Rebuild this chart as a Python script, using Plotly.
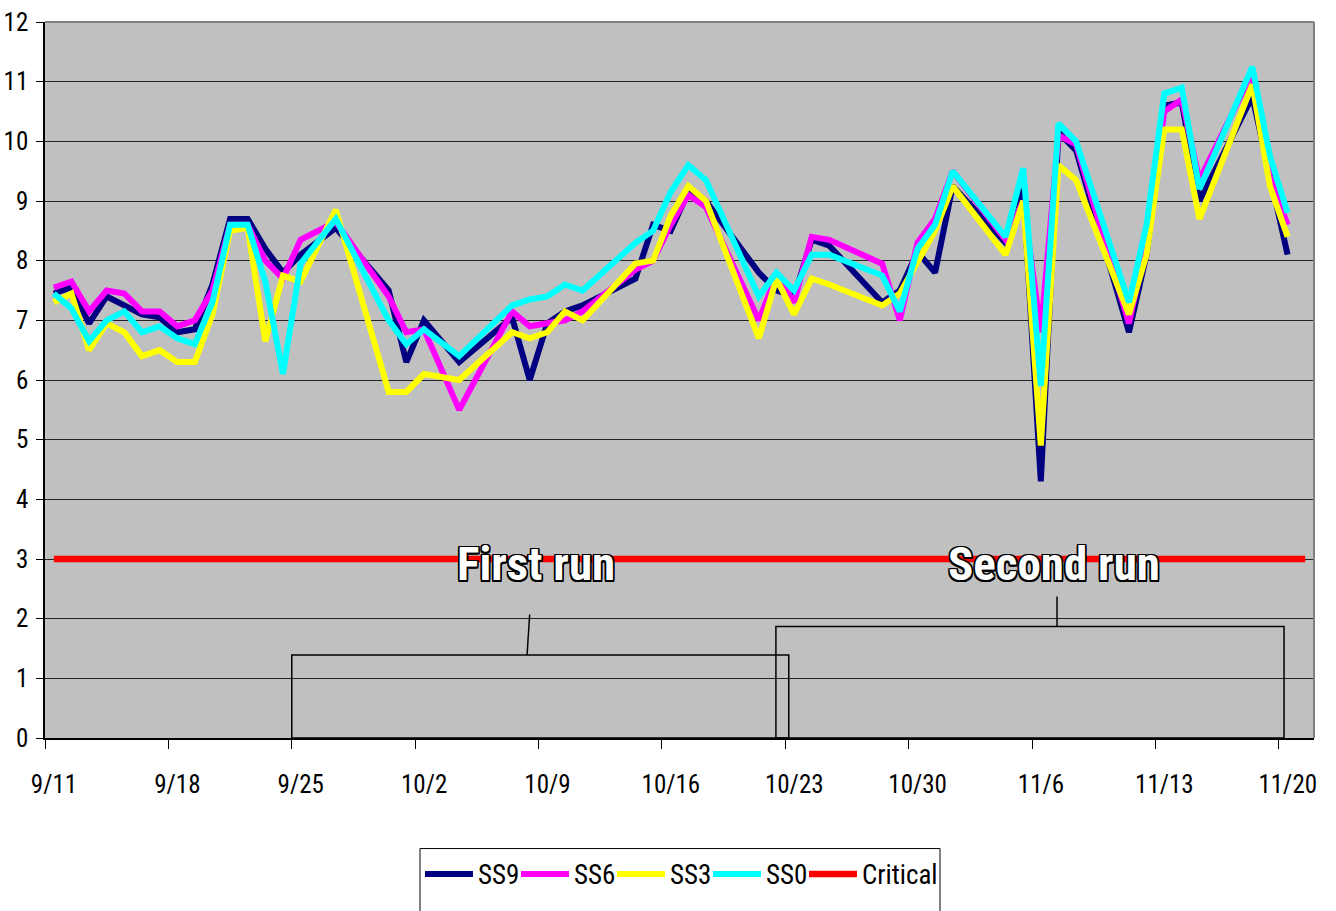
import pandas as pd
import plotly.graph_objects as go

# Sampling dates (2002) and readings for each series
dates = [
    "2002-09-11", "2002-09-12", "2002-09-13", "2002-09-14", "2002-09-15",
    "2002-09-16", "2002-09-17", "2002-09-18", "2002-09-19", "2002-09-20",
    "2002-09-21", "2002-09-22", "2002-09-23", "2002-09-24", "2002-09-25",
    "2002-09-27", "2002-09-30", "2002-10-01", "2002-10-02", "2002-10-04",
    "2002-10-07", "2002-10-08", "2002-10-09", "2002-10-10", "2002-10-11",
    "2002-10-14", "2002-10-15", "2002-10-16", "2002-10-17", "2002-10-18",
    "2002-10-21", "2002-10-22", "2002-10-23", "2002-10-24", "2002-10-25",
    "2002-10-28", "2002-10-29", "2002-10-30", "2002-10-31", "2002-11-01",
    "2002-11-04", "2002-11-05", "2002-11-06", "2002-11-07", "2002-11-08",
    "2002-11-11", "2002-11-12", "2002-11-13", "2002-11-14", "2002-11-15",
    "2002-11-18", "2002-11-19", "2002-11-20",
]

ss9 = [
    7.45, 7.55, 6.95, 7.40, 7.25, 7.10, 7.05, 6.80, 6.85, 7.60,
    8.70, 8.70, 8.20, 7.80, 8.10, 8.55, 7.50, 6.30, 7.00, 6.30,
    7.05, 6.00, 6.95, 7.15, 7.25, 7.70, 8.60, 8.50, 9.15, 9.00,
    7.80, 7.50, 7.40, 8.35, 8.25, 7.30, 7.50, 8.15, 7.80, 9.25,
    8.30, 9.20, 4.30, 10.15, 9.85, 6.80, 8.10, 10.60, 10.65, 9.00,
    10.75, 9.40, 8.10,
]
ss6 = [
    7.55, 7.65, 7.15, 7.50, 7.45, 7.15, 7.15, 6.90, 7.00, 7.50,
    8.60, 8.60, 8.00, 7.70, 8.35, 8.65, 7.40, 6.80, 6.85, 5.50,
    7.15, 6.90, 6.95, 7.00, 7.15, 7.85, 8.00, 8.60, 9.10, 8.90,
    7.00, 7.75, 7.30, 8.40, 8.35, 7.95, 7.00, 8.30, 8.70, 9.50,
    8.35, 9.00, 6.80, 10.10, 9.95, 6.95, 8.30, 10.50, 10.70, 9.35,
    11.15, 9.40, 8.60,
]
ss3 = [
    7.30, 7.45, 6.50, 6.95, 6.80, 6.40, 6.50, 6.30, 6.30, 7.10,
    8.50, 8.55, 6.65, 7.75, 7.65, 8.85, 5.80, 5.80, 6.10, 6.00,
    6.80, 6.70, 6.80, 7.15, 7.00, 7.95, 8.00, 8.75, 9.25, 9.00,
    6.70, 7.70, 7.10, 7.70, 7.60, 7.25, 7.45, 8.00, 8.50, 9.25,
    8.10, 9.00, 4.90, 9.60, 9.35, 7.10, 8.10, 10.20, 10.20, 8.70,
    10.95, 9.25, 8.40,
]
ss0 = [
    7.45, 7.20, 6.65, 7.00, 7.15, 6.80, 6.90, 6.70, 6.60, 7.30,
    8.60, 8.60, 7.65, 6.10, 7.95, 8.70, 7.00, 6.60, 6.85, 6.40,
    7.25, 7.35, 7.40, 7.60, 7.50, 8.30, 8.50, 9.15, 9.60, 9.35,
    7.40, 7.80, 7.50, 8.10, 8.10, 7.75, 7.15, 8.20, 8.60, 9.50,
    8.40, 9.55, 5.90, 10.30, 10.00, 7.30, 8.60, 10.80, 10.90, 9.20,
    11.25, 9.75, 8.80,
]
critical_dates = ["2002-09-11", "2002-11-21"]
critical = [3, 3]

series_names = ["SS9", "SS6", "SS3", "SS0"]
series_colors = ["#000080", "#FF00FF", "#FFFF00", "#00FFFF"]

tick_labels = ["9/11", "9/18", "9/25", "10/2", "10/9", "10/16",
               "10/23", "10/30", "11/6", "11/13", "11/20"]

# Each daily reading sits in the middle of its day slot
half_day = pd.Timedelta(hours=12)
x_days = pd.to_datetime(dates) + half_day
x_crit = pd.to_datetime(critical_dates) + half_day

start = pd.Timestamp("2002-09-11")
end = pd.Timestamp("2002-11-22")
tick_vals = [start + pd.Timedelta(days=7 * i) for i in range(len(tick_labels))]

FONT = "Roboto Condensed, DejaVu Sans Condensed, sans-serif"

fig = go.Figure()
for name, vals, col in zip(series_names, [ss9, ss6, ss3, ss0], series_colors):
    fig.add_trace(go.Scatter(x=x_days, y=vals, mode="lines", name=name,
                             legendwidth=33,
                             line=dict(color=col, width=6)))
fig.add_trace(go.Scatter(x=x_crit, y=critical, mode="lines", name="Critical",
                         legendwidth=90,
                         line=dict(color="#FF0000", width=6.5)))


def day(ts, d):
    return pd.Timestamp(ts) + pd.Timedelta(days=d)


shapes = []
# Bracket boxes marking the two runs
shapes.append(dict(type="rect", xref="x", yref="y",
                   x0=day("2002-09-25", 0), x1=day("2002-10-23", 0.2),
                   y0=0, y1=1.39, line=dict(color="black", width=1.5)))
shapes.append(dict(type="rect", xref="x", yref="y",
                   x0=day("2002-10-22", 0.47), x1=day("2002-11-20", 0.3),
                   y0=0, y1=1.87, line=dict(color="black", width=1.5)))
# Leader lines from the boxes to the labels
shapes.append(dict(type="line", xref="x", yref="y",
                   x0=day("2002-10-08", 0.35), x1=day("2002-10-08", 0.5),
                   y0=1.39, y1=2.07, line=dict(color="black", width=1.5)))
shapes.append(dict(type="line", xref="x", yref="y",
                   x0=day("2002-11-07", 0.42), x1=day("2002-11-07", 0.42),
                   y0=1.87, y1=2.37, line=dict(color="black", width=1.5)))
# Grey plot-area border along top and right
shapes.append(dict(type="line", xref="paper", yref="paper", x0=0, x1=1, y0=1, y1=1,
                   line=dict(color="#808080", width=2)))
shapes.append(dict(type="line", xref="paper", yref="paper", x0=1, x1=1, y0=0, y1=1,
                   line=dict(color="#808080", width=2)))
# Legend frame
shapes.append(dict(type="rect", xref="paper", yref="paper",
                   x0=0.2955, x1=0.7053, y0=-0.1544, y1=-0.245,
                   line=dict(color="black", width=1), fillcolor="white", layer="below"))

outline = ("-1.5px -1.5px 0 #000, 1.5px -1.5px 0 #000, -1.5px 1.5px 0 #000, "
           "1.5px 1.5px 0 #000, 0 1.5px 0 #000, 0 -1.5px 0 #000, 1.5px 0 0 #000, -1.5px 0 0 #000")
label_font = dict(family=FONT, size=47, color="white", weight="bold", shadow=outline)
annotations = [
    dict(x=day("2002-10-08", 0.86), y=2.92, xref="x", yref="y", text="First run",
         showarrow=False, font=label_font, xanchor="center", yanchor="middle"),
    dict(x=day("2002-11-07", 0.25), y=2.92, xref="x", yref="y", text="Second run",
         showarrow=False, font=label_font, xanchor="center", yanchor="middle"),
]

fig.update_layout(
    width=1336, height=911,
    margin=dict(l=45, r=22, t=22, b=170),
    paper_bgcolor="white", plot_bgcolor="#C0C0C0",
    font=dict(family=FONT, size=27, color="black"),
    shapes=shapes, annotations=annotations,
    showlegend=True,
    legend=dict(orientation="h", x=0.2955, xanchor="left", y=-0.1905, yanchor="middle",
                bgcolor="rgba(0,0,0,0)", borderwidth=0,
                font=dict(family=FONT, size=27, color="black"),
                itemwidth=48, traceorder="normal"),
)
fig.update_xaxes(
    type="date", range=[start, end], automargin=False,
    tickvals=tick_vals, ticktext=tick_labels,
    ticks="outside", ticklen=9, tickcolor="black", tickwidth=1,
    ticklabelshift=9, ticklabelstandoff=14,
    showline=True, linecolor="black", linewidth=1.5,
    showgrid=False, zeroline=False,
    tickfont=dict(family=FONT, size=25, color="black"),
)
fig.update_yaxes(
    range=[0, 12], dtick=1, tick0=0, automargin=False,
    ticks="outside", ticklen=7, tickcolor="black", tickwidth=1,
    showline=True, linecolor="black", linewidth=1.5,
    showgrid=True, gridcolor="#222222", gridwidth=1,
    zeroline=False, ticklabelstandoff=3,
    tickfont=dict(family=FONT, size=25, color="black"),
)

fig.write_html("out.html")
